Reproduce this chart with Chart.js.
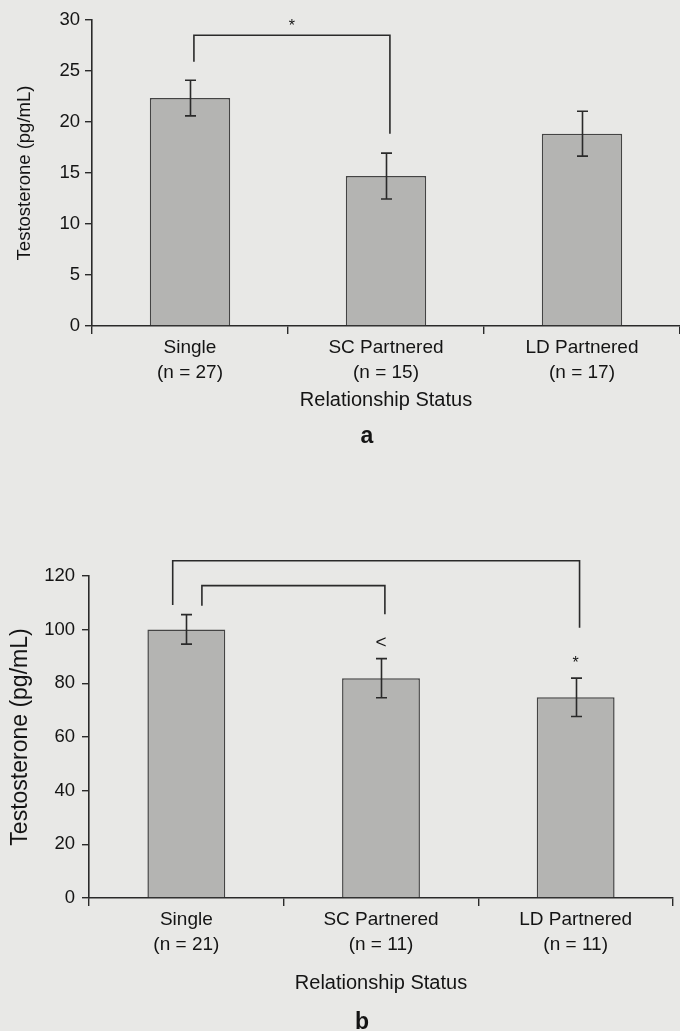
<!DOCTYPE html>
<html>
<head>
<meta charset="utf-8">
<script src="https://cdn.jsdelivr.net/npm/chart.js@4/dist/chart.umd.min.js"></script>
<style>
  html, body { margin: 0; padding: 0; background: #e8e8e6; }
  #wrap { position: relative; width: 680px; height: 1031px; overflow: hidden; }
  canvas { position: absolute; left: 0; }
  #chartA { top: 0; }
  #chartB { top: 470px; }
</style>
</head>
<body>
<div id="wrap">
  <canvas id="chartA" width="680" height="470"></canvas>
  <canvas id="chartB" width="680" height="561"></canvas>
</div>
<script>
// ---- data ----
// panel a
const categoriesA = [['Single', '(n = 27)'], ['SC Partnered', '(n = 15)'], ['LD Partnered', '(n = 17)']];
const meansA = [22.35, 14.7, 18.85];
const errorsA = [1.75, 2.25, 2.2];
const ticksA = { min: 0, max: 30, step: 5 };
// bracket: from category, to category, top value, leg end values
const bracketsA = [
    { from: 0, to: 1, top: 28.5, fromEnd: 25.9, toEnd: 18.85 }
];
const markersA = [
    { at: 0.52, value: 29.4, text: '*' }
];

// panel b
const categoriesB = [['Single', '(n = 21)'], ['SC Partnered', '(n = 11)'], ['LD Partnered', '(n = 11)']];
const meansB = [100.1, 81.9, 74.8];
const errorsB = [5.5, 7.3, 7.15];
const ticksB = { min: 0, max: 120, step: 20 };
const bracketsB = [
    { from: 0, to: 2, top: 125.7, fromEnd: 109.2, toEnd: 100.7 },
    { from: 0, to: 1, top: 116.4, fromEnd: 108.9, toEnd: 105.7 }
];
const markersB = [
    { at: 1, value: 95.2, text: '<' },
    { at: 2, value: 87.5, text: '*' }
];

const FONT = "'Liberation Sans', Arial, Helvetica, sans-serif";
const INK = '#141414';
const LINE = '#2a2a2a';

// leg shifts of brackets, as fraction of a category width
const legShiftA = [[0.02, 0.02]];
const legShiftB = [[-0.07, 0.02], [0.08, 0.02]];

// draws error bars, significance brackets and panel letter
function makeOverlay(means, errors, brackets, shifts, markers, letter) {
    return {
        id: 'overlay',
        afterDatasetsDraw(chart) {
            const { ctx, chartArea } = chart;
            const x = chart.scales.x, y = chart.scales.y;
            const step = x.getPixelForValue(1) - x.getPixelForValue(0);
            ctx.save();
            ctx.strokeStyle = LINE;
            ctx.lineWidth = 1.6;

            // error bars
            means.forEach((m, i) => {
                const cx = Math.round(x.getPixelForValue(i)) + 0.5;
                const t = y.getPixelForValue(m + errors[i]);
                const b = y.getPixelForValue(m - errors[i]);
                ctx.beginPath();
                ctx.moveTo(cx, t); ctx.lineTo(cx, b);
                ctx.moveTo(cx - 5.5, t); ctx.lineTo(cx + 5.5, t);
                ctx.moveTo(cx - 5.5, b); ctx.lineTo(cx + 5.5, b);
                ctx.stroke();
            });

            // brackets
            brackets.forEach((br, k) => {
                const x1 = x.getPixelForValue(br.from) + shifts[k][0] * step;
                const x2 = x.getPixelForValue(br.to) + shifts[k][1] * step;
                ctx.beginPath();
                ctx.moveTo(x1, y.getPixelForValue(br.fromEnd));
                ctx.lineTo(x1, y.getPixelForValue(br.top));
                ctx.lineTo(x2, y.getPixelForValue(br.top));
                ctx.lineTo(x2, y.getPixelForValue(br.toEnd));
                ctx.stroke();
            });

            // markers
            ctx.fillStyle = INK;
            ctx.textAlign = 'center';
            ctx.textBaseline = 'middle';
            markers.forEach(mk => {
                ctx.font = (mk.text === '*' ? '16px ' : '19px ') + FONT;
                ctx.fillText(mk.text, x.getPixelForValue(mk.at), y.getPixelForValue(mk.value));
            });

            // panel letter
            ctx.font = 'bold 23px ' + FONT;
            ctx.fillText(letter.text, (chartArea.left + chartArea.right) / 2 - 19, letter.y);
            ctx.restore();
        }
    };
}

function buildChart(id, cfg) {
    const ctx = document.getElementById(id).getContext('2d');
    return new Chart(ctx, {
        type: 'bar',
        data: {
            labels: cfg.categories,
            datasets: [{
                data: cfg.means,
                backgroundColor: '#b4b4b2',
                borderColor: '#444444',
                borderWidth: 1.5,
                categoryPercentage: 1,
                barPercentage: cfg.barPct
            }]
        },
        options: {
            responsive: false,
            animation: false,
            devicePixelRatio: 1,
            layout: { padding: { top: cfg.padTop, right: cfg.padRight, left: 0, bottom: 0 } },
            plugins: { legend: { display: false }, tooltip: { enabled: false } },
            scales: {
                x: {
                    grid: { offset: true, drawOnChartArea: false, drawTicks: true, tickLength: 8, color: LINE, lineWidth: 1.4 },
                    border: { display: true, color: LINE, width: 1.6 },
                    ticks: {
                        color: INK, autoSkip: false, maxRotation: 0, padding: 1.5,
                        font: { family: FONT, size: 19, lineHeight: 1.32 }
                    },
                    title: {
                        display: true, text: 'Relationship Status', color: INK,
                        font: { family: FONT, size: 20 },
                        padding: { top: 0, bottom: cfg.xTitlePad }
                    },
                    afterFit: s => { s.height = cfg.xHeight; }
                },
                y: {
                    min: cfg.ticks.min,
                    max: cfg.ticks.max,
                    grid: { drawOnChartArea: false, drawTicks: true, tickLength: 7, color: LINE, lineWidth: 1.4 },
                    border: { display: true, color: LINE, width: 1.6 },
                    ticks: {
                        stepSize: cfg.ticks.step, color: INK, padding: cfg.yTickPad,
                        font: { family: FONT, size: 18.5 }
                    },
                    title: {
                        display: true, text: 'Testosterone (pg/mL)', color: INK,
                        font: { family: FONT, size: cfg.yTitleSize },
                        padding: { top: cfg.yTitlePad, bottom: 0 }
                    },
                    afterFit: s => { s.width = cfg.yWidth; }
                }
            }
        },
        plugins: [makeOverlay(cfg.means, cfg.errors, cfg.brackets, cfg.shifts, cfg.markers, cfg.letter)]
    });
}

buildChart('chartA', {
    categories: categoriesA, means: meansA, errors: errorsA, ticks: ticksA,
    brackets: bracketsA, shifts: legShiftA, markers: markersA,
    letter: { text: 'a', y: 437 },
    barPct: 0.41, padTop: 20, padRight: 0, xHeight: 144, xTitlePad: 58,
    yWidth: 92, yTickPad: 5, yTitleSize: 18.5, yTitlePad: 14
});

buildChart('chartB', {
    categories: categoriesB, means: meansB, errors: errorsB, ticks: ticksB,
    brackets: bracketsB, shifts: legShiftB, markers: markersB,
    letter: { text: 'b', y: 553 },
    barPct: 0.40, padTop: 106, padRight: 7, xHeight: 133, xTitlePad: 36,
    yWidth: 89, yTickPad: 7, yTitleSize: 23, yTitlePad: 7
});
</script>
</body>
</html>
